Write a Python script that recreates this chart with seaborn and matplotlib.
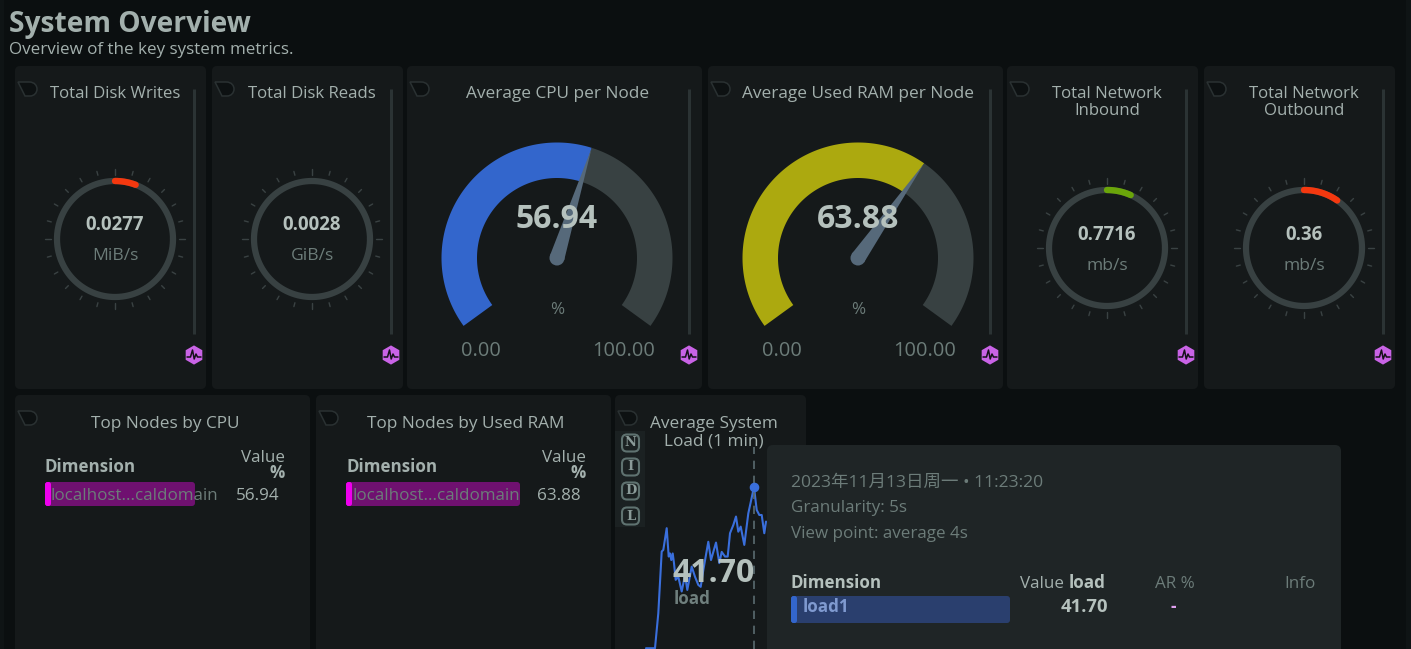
import numpy as np
import matplotlib
matplotlib.use('Agg')
import matplotlib.pyplot as plt
import seaborn as sns
from matplotlib.patches import FancyBboxPatch, Polygon, PathPatch, RegularPolygon, Circle
from matplotlib.path import Path

# --- data ---
ring_titles = ['Total Disk Writes', 'Total Disk Reads', 'Total Network\nInbound', 'Total Network\nOutbound']
ring_values = ['0.0277', '0.0028', '0.7716', '0.36']
ring_units = ['MiB/s', 'GiB/s', 'mb/s', 'mb/s']
ring_fill = [0.058, 0.0, 0.067, 0.097]  # share of the full circle
ring_colors = ['#f4380f', '#f4380f', '#6aa50a', '#f4380f']

gauge_titles = ['Average CPU per Node', 'Average Used RAM per Node']
gauge_values = [56.94, 63.88]
gauge_colors = ['#3366cc', '#aca90f']

table_titles = ['Top Nodes by CPU', 'Top Nodes by Used RAM']
table_node = 'localhost...caldomain'
table_scale = [2.634, 2.724]  # px per percent, each table has its own scale

load_time = [36, 45, 48.3, 51.7, 53.3, 56.7, 58.7, 60, 61.3, 62.7, 64, 65.7, 68.3, 71.7, 75, 77.3, 81.7, 85, 88.3, 90.7,
             93.3, 98.3, 101, 106, 109.3, 111.7, 115, 117.7, 120, 123.3, 126, 128.3, 130.7, 134.3, 138.3, 144, 146.7,
             149.3, 151.7, 154.3, 156]
load_value = [0.2, 0.2, 9.2, 25.1, 25.5, 31.1, 23.8, 24.6, 22.9, 24.6, 22.1, 17.8, 18.6, 14.8, 19.0, 15.2, 21.2, 18.6,
              16.5, 16.0, 20.3, 27.6, 22.9, 27.4, 22.1, 25.0, 23.8, 23.8, 29.8, 31.9, 34.1, 30.2, 31.5, 26.8, 34.9,
              41.7, 35.8, 34.5, 34.5, 29.8, 32.8]

W, H = 1411, 649
BG = '#0b0f10'
PANEL = '#15191a'
TEXT = '#a3b0ad'
DIM = '#6c7c79'
BRIGHT = '#b5c1bd'
TRACK = '#384142'

sns.set_theme(style='dark')
plt.rcParams['font.family'] = ['Open Sans', 'Noto Sans CJK SC', 'DejaVu Sans']
plt.rcParams['axes.unicode_minus'] = False


def px(size):
    # css pixels to points
    return size * 0.72


fig = plt.figure(figsize=(W / 100, H / 100), dpi=100, facecolor=BG)

ax = fig.add_axes([0, 0, 1, 1], zorder=0)
ax.set_xlim(0, W)
ax.set_ylim(H, 0)
ax.axis('off')

top = fig.add_axes([0, 0, 1, 1], zorder=2)
top.set_xlim(0, W)
top.set_ylim(H, 0)
top.axis('off')
top.patch.set_alpha(0)


def label(a, x, y, s, size, color=TEXT, ha='center', **kw):
    # matplotlib centres a little high compared to the browser, so nudge down
    a.text(x, y + 3.5, s, ha=ha, va='center', fontsize=px(size), color=color, zorder=5, **kw)


def box(a, x0, y0, x1, y1, color, r=5, z=1, **kw):
    p = FancyBboxPatch((x0, y0), x1 - x0, y1 - y0, boxstyle=f'round,pad=0,rounding_size={r}',
                       fc=color, zorder=z, **({'ec': 'none'} | kw))
    a.add_patch(p)


def bookmark(x, y):
    verts = [(x, y), (x + 11, y), (x + 17, y), (x + 19, y + 4), (x + 19, y + 7), (x + 19, y + 11), (x + 16, y + 14),
             (x + 12, y + 14), (x + 7, y + 14), (x, y)]
    codes = [Path.MOVETO, Path.LINETO, Path.CURVE4, Path.CURVE4, Path.CURVE4, Path.CURVE4, Path.CURVE4, Path.CURVE4,
             Path.LINETO, Path.CLOSEPOLY]
    ax.add_patch(PathPatch(Path(verts, codes), fc='#0d1112', ec='#2a3132', lw=1.1, zorder=3))


def side_controls(x):
    # slider and the purple badge at the right of each top panel
    ax.plot([x, x], [89, 334], color='#2b3334', lw=2.2, solid_capstyle='butt', zorder=3)
    ax.add_patch(RegularPolygon((x, 355), 6, radius=9.6, orientation=0, fc='#c963e6', ec='none', zorder=3))
    ax.plot([x - 7, x - 3.5, x - 1.5, x + 0.2, x + 2, x + 3.5, x + 7], [357, 357, 350, 359, 354, 357, 357],
            color='#15101a', lw=1.1, zorder=4)


def arc_xy(cx, cy, r, a0, a1, n=120):
    # angles in degrees, counter clockwise from east, y axis points down
    t = np.radians(np.linspace(a0, a1, n))
    return cx + r * np.cos(t), cy - r * np.sin(t)


def band(cx, cy, r0, r1, a0, a1, color, z=3):
    xo, yo = arc_xy(cx, cy, r1, a0, a1)
    xi, yi = arc_xy(cx, cy, r0, a1, a0)
    ax.add_patch(Polygon(np.c_[np.r_[xo, xi], np.r_[yo, yi]], closed=True, fc=color, ec='none', zorder=z))


def ring_gauge(panel_x, cy, value, unit, fill, color):
    cx = panel_x + 100
    px_ring = 58
    x, y = arc_xy(cx, cy, px_ring, 0, 360, 240)
    ax.plot(x, y, color=TRACK, lw=4.5, zorder=3)
    for i in range(24):
        a = np.radians(90 - i * 15)
        r0 = 64 if i % 6 == 0 else 66
        ax.plot([cx + r0 * np.cos(a), cx + 70 * np.cos(a)], [cy - r0 * np.sin(a), cy - 70 * np.sin(a)],
                color='#3a4243', lw=1.0, zorder=3)
    if fill > 0:
        x, y = arc_xy(cx, cy, px_ring, 90, 90 - fill * 360)
        ax.plot(x, y, color=color, lw=4.6, solid_capstyle='round', zorder=4)
    label(ax, cx, cy - 17, value, 18.6, BRIGHT, fontweight='bold')
    label(ax, cx, cy + 14, unit, 17.5, DIM)


def big_gauge(cx, cy, value, color):
    start, span = 216, 252
    end = start - span * value / 100
    band(cx, cy, 80, 115.5, start, end, color)
    band(cx, cy, 80, 115.5, end, start - span, TRACK)
    a = np.radians(end)
    n = np.array([-np.sin(a), -np.cos(a)])
    tip = np.array([cx + 115.5 * np.cos(a), cy - 115.5 * np.sin(a)])
    base = np.array([cx, cy])
    ax.add_patch(Polygon([tip, base + n * 7.5, base - n * 7.5], closed=True, fc='#56697a', ec='none', zorder=4))
    ax.add_patch(Circle((cx, cy), 7.5, fc='#56697a', ec='none', zorder=4))
    label(ax, cx, cy - 42, f'{value:.2f}', 32, BRIGHT, fontweight='bold')
    label(ax, cx, cy + 49, '%', 17, DIM)
    label(ax, cx - 76, cy + 90, '0.00', 20, DIM)
    label(ax, cx + 67, cy + 90, '100.00', 20, DIM)


# background strips and title
ax.add_patch(plt.Rectangle((1406, 0), 5, H, fc='#0f1415', ec='none', zorder=0))
ax.add_patch(plt.Rectangle((0, 0), 4, H, fc='#0f1415', ec='none', zorder=0))
label(ax, 9, 21, 'System Overview', 28.1, ha='left', fontweight='bold')
label(ax, 9, 47, 'Overview of the key system metrics.', 17, ha='left')

# top row
ring_x = [15, 212, 1007, 1204]
ring_cy = [239, 239, 248, 248]
for i in range(4):
    x0 = ring_x[i]
    box(ax, x0, 66, x0 + 191, 389, PANEL)
    bookmark(x0 + 3, 82)
    side_controls(x0 + 179)
    label(ax, x0 + 100, 99 if i > 1 else 91, ring_titles[i], 16.8, linespacing=1.15)
    ring_gauge(x0, ring_cy[i], ring_values[i], ring_units[i], ring_fill[i], ring_colors[i])

gauge_x = [407, 708]
for i in range(2):
    x0 = gauge_x[i]
    box(ax, x0, 66, x0 + 295, 389, PANEL)
    bookmark(x0 + 3, 82)
    side_controls(x0 + 282)
    label(ax, x0 + 150.5, 91, gauge_titles[i], 17.2)
    big_gauge(x0 + 150, 258, gauge_values[i], gauge_colors[i])

# bottom row tables
table_x = [15, 316]
for i in range(2):
    x0 = table_x[i]
    box(ax, x0, 395, x0 + 295, 660, PANEL)
    bookmark(x0 + 3, 411)
    label(ax, x0 + 150, 421, table_titles[i], 17.2)
    label(ax, x0 + 30, 463, 'Dimension', 17, ha='left', fontweight='bold')
    label(ax, x0 + 270, 454, 'Value', 17, ha='right')
    label(ax, x0 + 270, 469, '%', 17, ha='right', fontweight='bold')
    box(ax, x0 + 30, 482, x0 + 30 + gauge_values[i] * table_scale[i], 506, '#6f1170', r=3, z=3)
    box(ax, x0 + 30, 482, x0 + 36, 506, '#ee00ee', r=2.5, z=4)
    label(ax, x0 + 36, 492, table_node, 17, DIM, ha='left')
    label(ax, x0 + 243, 492, f'{gauge_values[i]:.2f}', 17)

# load panel
box(ax, 615, 395, 806, 660, PANEL)
ax.add_patch(plt.Rectangle((615, 431), 30, 96, fc='#1b2122', ec='none', zorder=2))
bookmark(618, 411)
label(ax, 714, 429, 'Average System\nLoad (1 min)', 17.2, linespacing=1.15)
for letter, y in zip('NIDL', [443, 467, 491, 516]):
    box(ax, 622, y - 8.5, 639, y + 8.5, '#1b2122', r=5, z=3, ec='#5f7270', lw=1.5)
    ax.text(630.5, y, letter, ha='center', va='center', fontsize=px(13), fontweight='bold',
            family='DejaVu Serif', color='#8a9a98', zorder=5)

# the chart area of the load panel, x in seconds and y in load units
ax_line = fig.add_axes([610 / W, 0, 200 / W, 249 / H], zorder=1)
ax_line.patch.set_alpha(0)
sns.lineplot(x=load_time, y=load_value, ax=ax_line, color='#3a6fdc', lw=1.5, errorbar=None)
ax_line.set_xlim(0, 200)
ax_line.set_ylim(0, 64.1)
ax_line.axis('off')
peak = load_value.index(max(load_value))
ax_line.axvline(load_time[peak], ymax=0.81, color='#5a6b70', lw=1.2, ls=(0, (5, 4)))
ax_line.scatter([load_time[peak]], [load_value[peak]], s=35, color='#3a6fdc', zorder=5)

label(top, 714, 570, '41.70', 32, BRIGHT, fontweight='bold')
label(top, 692, 596, 'load', 17, '#6f7f7d', fontweight='bold')

# tooltip
box(top, 767, 445, 1341, 665, '#1f2526', r=6, z=2)
label(top, 791, 479, '2023年11月13日周一 • 11:23:20', 17.5, DIM, ha='left')
label(top, 791, 505, 'Granularity: 5s', 17, DIM, ha='left')
label(top, 791, 530, 'View point: average 4s', 17, DIM, ha='left')
label(top, 791, 580, 'Dimension', 17, BRIGHT, ha='left', fontweight='bold')
label(top, 1106, 580, 'load', 17, BRIGHT, ha='right', fontweight='bold')
label(top, 1064, 580, 'Value', 17, TEXT, ha='right')
label(top, 1175, 580, 'AR %', 17, DIM)
label(top, 1316, 580, 'Info', 17, DIM, ha='right')
box(top, 791, 596, 1010, 623, '#2a3f6e', r=3, z=3)
box(top, 791, 596, 797, 623, '#3366cc', r=2.5, z=4)
label(top, 803, 604, 'load1', 17, '#7f9ad0', ha='left', fontweight='bold')
label(top, 1108, 604, f'{load_value[peak]:.2f}', 18.5, BRIGHT, ha='right', fontweight='bold')
label(top, 1173, 604, '-', 17, '#e0a0f0', fontweight='bold')

fig.savefig('out.png', dpi=100, facecolor=BG)
